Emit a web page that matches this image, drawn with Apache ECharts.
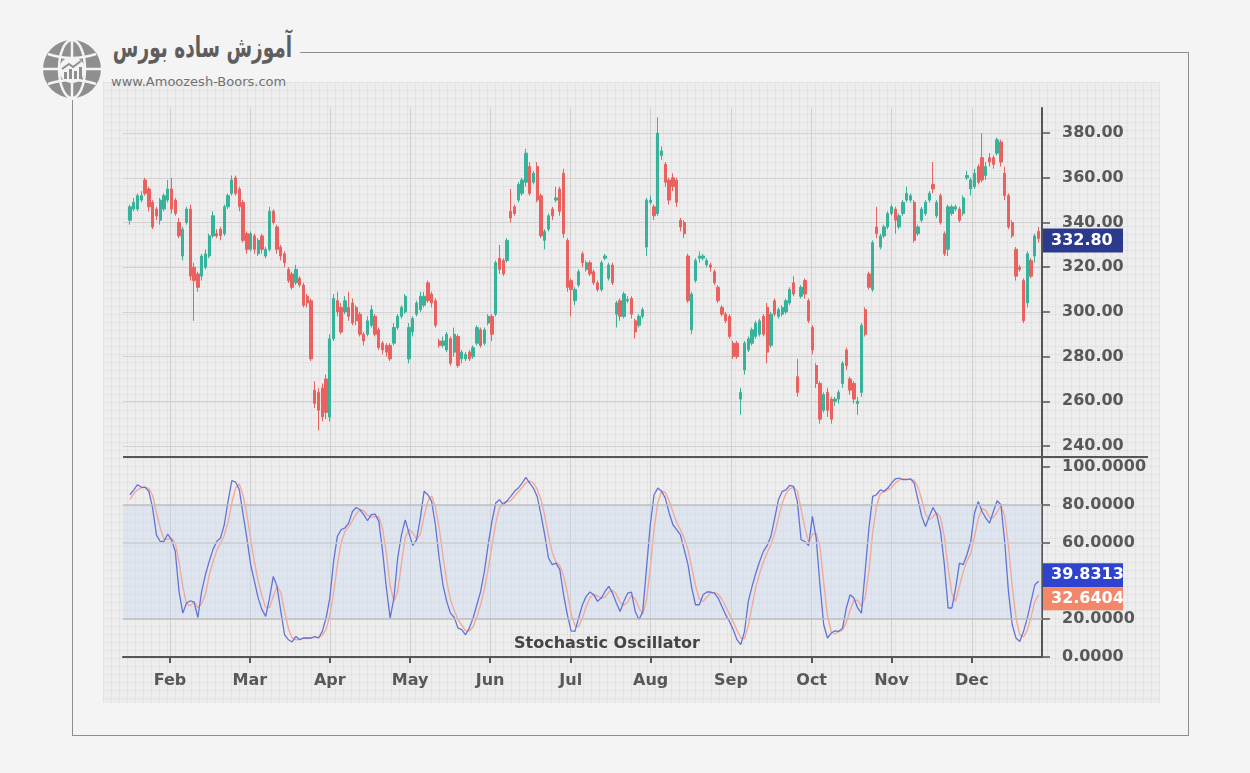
<!DOCTYPE html>
<html>
<head>
<meta charset="utf-8">
<script src="https://cdn.jsdelivr.net/npm/echarts@6/dist/echarts.min.js"></script>
<style>
html,body{margin:0;padding:0;width:1250px;height:773px;overflow:hidden;background:#f4f4f4;}
.panel{position:absolute;left:103px;top:82px;width:1057px;height:621px;background-color:#ededed;
 background-image:linear-gradient(to right, rgba(0,0,0,0.04) 1px, transparent 1px),linear-gradient(to bottom, rgba(0,0,0,0.04) 1px, transparent 1px);
 background-size:8px 8px;}
.fl{position:absolute;background:#8e8e8e;}
#logoText{position:absolute;right:958px;top:30px;direction:rtl;font-family:"DejaVu Sans";font-weight:bold;font-size:29px;color:#5e5e5e;white-space:nowrap;transform:scaleX(0.64);transform-origin:right center;}
#site{position:absolute;left:111px;top:74px;font-family:"DejaVu Sans";font-size:13px;color:#727272;white-space:nowrap;}
#globe{position:absolute;left:42px;top:39px;}
#chart{position:absolute;left:0;top:0;width:1250px;height:773px;}
</style>
</head>
<body>
<div class="panel"></div>
<div class="fl" style="left:300px;top:52px;width:889px;height:1px"></div>
<div class="fl" style="left:1188px;top:52px;width:1px;height:684px"></div>
<div class="fl" style="left:72px;top:735px;width:1117px;height:1px"></div>
<div class="fl" style="left:72px;top:100px;width:1px;height:636px"></div>
<svg id="globe" width="60" height="60" viewBox="0 0 60 60">
 <circle cx="30" cy="30" r="29" fill="#8f8f8f"/>
 <ellipse cx="30" cy="30" rx="13" ry="29" fill="none" stroke="#f4f4f4" stroke-width="2.5"/>
 <line x1="30" y1="1" x2="30" y2="59" stroke="#f4f4f4" stroke-width="2.5"/>
 <line x1="1" y1="30" x2="59" y2="30" stroke="#f4f4f4" stroke-width="2.5"/>
 <path d="M6 15 Q30 23 54 15" fill="none" stroke="#f4f4f4" stroke-width="2.5"/>
 <path d="M6 45 Q30 37 54 45" fill="none" stroke="#f4f4f4" stroke-width="2.5"/>
 <circle cx="30" cy="31" r="13" fill="#f4f4f4"/>
 <rect x="22" y="33" width="3" height="7" fill="#8f8f8f"/>
 <rect x="27" y="30" width="3" height="10" fill="#8f8f8f"/>
 <rect x="32" y="32" width="3" height="8" fill="#8f8f8f"/>
 <rect x="37" y="28" width="3" height="12" fill="#8f8f8f"/>
 <path d="M20 30 L27 25 L31 28 L39 22" fill="none" stroke="#8f8f8f" stroke-width="2"/>
</svg>
<div id="logoText">آموزش ساده بورس</div>
<div id="site">www.Amoozesh-Boors.com</div>
<div id="chart"></div>
<script>
// ---- data ----
const opens = [
341,346,346,350,359,355,349,346,341,346,
350,355,350,340,325,340,346,320,317,316,
320,325,334,335,337,335,347,353,360,355,
349,335,328,334,326,334,325,328,345,338,
329,326,319,317,313,315,312,307,305,265,
264,266,270,253,288,305,302,300,302,304,
302,299,290,290,294,298,292,286,285,285,
286,293,298,300,279,291,299,301,303,313,
308,305,287,285,283,288,282,289,279,279,
282,280,286,292,286,295,298,299,324,323,
323,345,347,350,353,358,365,358,365,352,
332,337,346,350,355,362,332,314,305,312,
326,319,322,318,313,310,324,315,321,299,
305,298,305,306,296,294,298,329,349,347,
344,370,366,359,360,359,341,340,325,292,
314,324,324,321,321,318,311,302,299,298,
286,286,261,274,283,286,289,290,298,302,
285,305,298,299,300,304,313,271,307,314,
305,293,276,268,256,264,261,260,261,268,
283,270,268,259,264,301,317,310,338,329,
334,338,344,346,338,344,350,350,349,335,
341,344,350,357,343,352,335,328,344,346,
346,344,360,355,356,365,369,361,369,369,
371,376,362,352,340,328,320,314,304,323,
325,336];
const closes = [
347,349,352,352,353,347,338,343,350,352,
355,346,344,334,337,346,316,314,311,325,
326,334,343,334,334,347,352,359,353,347,
332,328,335,328,332,328,328,345,340,328,
325,322,314,311,319,312,303,304,279,259,
256,253,255,288,306,300,291,305,298,295,
296,290,287,296,301,290,284,283,282,279,
293,298,302,307,293,297,304,307,307,305,
304,294,285,287,290,277,290,276,282,281,
279,284,293,285,292,298,290,322,319,317,
332,342,344,357,359,371,353,362,350,334,
336,343,343,351,345,335,311,310,310,318,
322,322,317,313,310,322,325,321,313,304,
298,308,305.5,299,291,298,301,350,350,343,
380,372,358,350,356,349,338,335,305,308,
323,325,325,323,320,313,305,299,296,289,
280,280,264,286,288,292,295,296,290,282,
299,299,301,302,305,310,308,264,311,308,
296,283,268,252,263,256,252,261,264,277,
276,265,261,260,294,290,311,331,335,334,
338,344,347,341,343,349,353,352,332,338,
346,349,353,355,349,340,326,347,347,347,
341,351,361,359,362,358,359,365,367,366,
377,367,352,338,334,316,319,296,326,316,
334,332.8];
const lows = [
339,345,345,349,352,345,337,341,339,345,
349,344,343,333,323,339,314,296,309,314,
319,324,333,333,332,334,346,352,352,345,
331,326,327,326,325,326,324,327,339,326,
323,320,313,310,312,311,302,302,278,257,
247,251,252,251,287,298,290,299,296,294,
294,289,285,289,293,289,283,281,280,278,
285,292,297,299,277,289,298,300,302,304,
302,293,284,284,282,276,280,275,277,278,
278,279,285,284,285,294,287,298,317,316,
322,340,343,349,352,356,352,357,349,333,
328,336,341,349,343,333,309,298,303,311,
320,318,316,312,309,309,323,314,312,293,
296,297,304,297,288,293,297,325,348,341,
343,368,356,348,354,347,336,333,304,290,
313,322,323,320,318,312,304,298,295,288,
279,279,254,272,282,285,288,289,289,277,
284,298,297,298,299,303,307,262,306,306,
295,281,266,250,255,253,250,258,259,266,
274,263,259,254,262,289,310,309,333,328,
333,337,343,335,337,343,349,349,331,334,
340,343,349,353,342,339,325,325,343,345,
340,343,359,352,355,357,358,359,365,364,
370,365,350,337,333,314,318,295,302,315,
322,331];
const highs = [
348,351,353,354,360,356,350,347,351,353,
359,360,351,342,338,347,348,322,318,326,
328,335,345,337,338,348,353,361,361,356,
350,336,336,335,333,335,329,347,346,339,
330,327,320,318,321,316,313,308,306,269,
266,268,272,290,308,309,304,307,309,306,
303,300,291,298,303,299,293,287,286,286,
295,299,303,308,295,298,305,309,309,314,
309,306,288,289,291,289,293,290,283,282,
283,285,294,293,293,299,299,323,330,324,
333,355,348,358,360,373,367,363,367,353,
337,344,347,356,356,364,333,315,311,319,
327,323,323,319,314,323,326,322,322,305,
306,309,307,307,297,299,302,351,352,348,
387,374,367,360,362,360,342,341,326,309,
324,327,326,324,322,319,312,303,300,299,
287,287,266,287,289,293,296,297,299,304,
300,306,302,303,306,311,316,279,312,315,
306,294,277,269,264,266,262,262,265,278,
284,271,269,262,295,302,318,332,347,335,
339,345,348,347,344,350,356,353,350,339,
347,350,354,367,350,353,336,348,348,348,
347,352,363,360,364,366,380,367,371,370,
378,377,365,353,341,329,321,315,327,324,
335,338];
// Stochastic %K and %D
const stochK = [
85.4,88,90.7,89.3,89.3,87.2,78.4,64.3,60.8,60.8,
64.7,61.7,55.6,34.5,23.1,28.4,29.6,28.9,20.8,34.5,
43.3,50.3,56.5,60.8,62.6,69.6,81.9,92.8,92.1,88,
74.9,62.6,48.6,39.8,31,24.9,21.4,31,42.4,37.2,
24,11.7,9.1,7.9,10.8,9.1,10,10,10,10.8,
10,13.5,20.5,31,50.3,63.5,67,67.9,70.5,76.6,
78.7,77.5,74.9,71.7,74.9,75.2,71.4,55.6,36.3,20.5,
31,52.1,64.3,72.2,65.2,58.7,61.7,73.1,87.2,85.4,
81.9,69.6,52.1,38,29.3,23.1,20.8,15.2,14.4,11.7,
15.2,20.5,27.5,34.5,45.1,59.1,71.4,81,82.8,80.1,
82.2,84.5,87.2,88.9,91.5,94.5,91.5,88.9,84.5,74.9,
64.3,52.1,48.6,49.4,46,32.8,22.2,13.8,13.5,20.5,
27.5,31.9,34.2,32.8,29.3,31,34.5,37.2,33.6,28.4,
24,29.3,33.6,34.2,24,19.6,24,46.8,69.6,85.4,
88.9,87.2,83.6,75.8,69.6,67,64.3,56.5,48.6,36.3,
27.5,27.5,32.8,34.2,34.2,33.6,31,26.6,22.2,18.7,
14.4,9.1,6.5,13.5,29.3,37.2,44.2,50.3,55.6,58.7,
63.5,73.1,82.8,87.2,88,90.3,89.8,81.9,61.7,60.8,
58.7,74,62.6,38,17,10,12.6,13.8,13.5,15.2,
25.8,32.8,31,25.8,23.1,45.1,67.9,84.5,85.4,88,
87.2,88.9,91.5,93.8,94.2,93.3,93.3,93.8,91.5,82.8,
74,68.7,74,78.7,74.9,66.1,48.6,25.8,25.8,36.3,
49.4,48.6,53.8,60.8,75.8,81.9,76.6,73.1,70.5,76.6,
82.2,80.1,60.8,34.5,17,10,8.2,13.5,20.5,29.3,
38,39.8313];
const stochD = [
83,86,88,89,89.5,88.5,85,76,68,62,
62,62.5,60,50,37,28,27,29,26,28,
33,43,50,56,60,64,71,81,89,91,
85,75,62,50,40,32,26,26,32,37,
34,24,15,10,9,9.3,10,9.7,10,10.3,
10.3,11.4,14.7,21.7,33.9,48.3,60.3,66.1,68.5,71.7,
75.3,77.6,77,74.7,73.8,73.9,73.8,67.4,54.4,37.5,
29.3,34.5,49.1,62.9,67.2,65.4,61.9,64.5,74,81.9,
84.8,79,67.9,53.2,39.8,30.1,24.4,19.7,16.8,13.8,
13.8,15.8,21.1,27.5,35.7,46.2,58.5,70.5,78.4,81.3,
81.7,82.3,84.6,86.9,89.2,91.6,92.5,91.6,88.3,82.8,
74.6,63.8,55,50,48,42.7,33.7,22.9,16.5,15.9,
20.5,26.6,31.2,33,32.1,31,31.6,34.2,35.1,33.1,
28.7,27.2,29,32.4,30.6,25.9,22.5,30.1,46.8,67.3,
81.3,87.2,86.6,82.2,76.3,70.8,67,62.6,56.5,47.1,
37.5,30.4,29.3,31.5,33.7,34,33,30.4,26.6,22.5,
18.4,14.1,10,9.7,16.4,26.7,36.9,43.9,50,54.9,
59.3,65.1,73.1,81,86,88.5,89.4,87.3,77.8,68.1,
60.4,64.5,65.1,58.2,39.2,21.7,13.2,12.1,13.3,14.2,
18.2,24.6,29.9,29.9,26.6,31.3,45.4,65.8,79.3,86,
86.9,88,89.2,91.4,93.2,93.8,93.6,93.5,92.9,89.4,
82.8,75.2,72.2,73.8,75.9,73.2,63.2,46.8,33.4,29.3,
37.2,44.8,50.6,54.4,63.5,72.8,78.1,77.2,73.4,73.4,
76.4,79.6,74.4,58.5,37.4,20.5,11.7,10.6,14.1,21.1,
29.3,32.6404];
// axis ticks / labels
const monthNames = ['Feb','Mar','Apr','May','Jun','Jul','Aug','Sep','Oct','Nov','Dec'];
const monthTicks = [10.6,31.8,53.0,74.3,95.5,116.9,138.1,159.4,180.8,202.0,223.3];
const priceTicks = [240,260,280,300,320,340,360,380];
const stochTicks = [0,20,40,60,80,100];
const stochLevels = [20,60,80];
const indicatorName = 'Stochastic Oscillator';

// ---- chart ----
const FONT = 'DejaVu Sans';
const UP = '#38b39b', DOWN = '#e9625f';
const AXIS = '#555555';
const candleData = opens.map((o, i) => [i, o, closes[i], lows[i], highs[i]]);
const kData = stochK.map((v, i) => [i, v]);
const dData = stochD.map((v, i) => [i, v]);
const labelStyle = {color: '#585858', fontSize: 16, fontWeight: 'bold', fontFamily: FONT};
const last = closes.length - 1;

const chart = echarts.init(document.getElementById('chart'));
chart.setOption({
  animation: false,
  backgroundColor: 'transparent',
  grid: [
    {left: 123, top: 108, width: 919, height: 349},
    {left: 123, top: 457, width: 919, height: 200}
  ],
  xAxis: [
    {type: 'value', gridIndex: 0, min: -1.86, max: 241.9,
     axisLine: {show: false, onZero: false}, axisTick: {show: false, customValues: monthTicks},
     axisLabel: {show: false, customValues: monthTicks},
     splitLine: {show: true, lineStyle: {color: '#cfcfcf', width: 1}}},
    {type: 'value', gridIndex: 1, min: -1.86, max: 241.9,
     axisLine: {show: true, onZero: false, lineStyle: {color: AXIS, width: 2}},
     axisTick: {show: true, customValues: monthTicks, length: 6, lineStyle: {color: AXIS, width: 2}},
     axisLabel: Object.assign({customValues: monthTicks, margin: 16,
       formatter: v => monthNames[monthTicks.findIndex(t => Math.abs(t - v) < 0.01)] || ''}, labelStyle),
     splitLine: {show: true, lineStyle: {color: '#cfcfcf', width: 1}}}
  ],
  yAxis: [
    {type: 'value', gridIndex: 0, position: 'right', min: 235.1, max: 391.2, scale: true,
     axisLine: {show: true, onZero: false, lineStyle: {color: AXIS, width: 2}},
     axisTick: {show: true, customValues: priceTicks, length: 8, lineStyle: {color: AXIS, width: 1.5}},
     axisLabel: Object.assign({customValues: priceTicks, margin: 20, formatter: v => v.toFixed(2)}, labelStyle),
     splitLine: {show: true, lineStyle: {color: '#d2d2d2', width: 1}}},
    {type: 'value', gridIndex: 1, position: 'right', min: 0, max: 105.26,
     axisLine: {show: true, onZero: false, lineStyle: {color: AXIS, width: 2}},
     axisTick: {show: true, customValues: stochTicks, length: 8, lineStyle: {color: AXIS, width: 1.5}},
     // the label hidden behind the current-value boxes is left out
     axisLabel: Object.assign({margin: 20,
       customValues: stochTicks.filter(v => Math.abs(v - stochK[last]) > 12),
       formatter: v => v.toFixed(4)}, labelStyle),
     splitLine: {show: false}}
  ],
  series: [
    {type: 'candlestick', xAxisIndex: 0, yAxisIndex: 0, data: candleData,
     encode: {x: 0, y: [1, 2, 3, 4]}, barWidth: 2.8,
     itemStyle: {color: UP, color0: DOWN, borderColor: UP, borderColor0: DOWN, borderWidth: 1}},
    {type: 'line', xAxisIndex: 1, yAxisIndex: 1, data: dData, showSymbol: false, z: 3,
     lineStyle: {color: '#f1a99b', width: 1.4}},
    {type: 'line', xAxisIndex: 1, yAxisIndex: 1, data: kData, showSymbol: false, z: 4,
     lineStyle: {color: '#6473d4', width: 1.3},
     markArea: {silent: true, itemStyle: {color: 'rgba(200,217,243,0.36)'},
       data: [[{yAxis: stochLevels[0]}, {yAxis: stochLevels[2]}]]},
     markLine: {silent: true, symbol: 'none', label: {show: false},
       data: stochLevels.map(v => ({yAxis: v, lineStyle: {color: v === 60 ? '#cdcdcd' : '#bcbcbc', width: 1.5, type: 'solid'}}))}}
  ]
});

const yP = chart.convertToPixel({yAxisIndex: 0}, closes[last]);
const yK = chart.convertToPixel({yAxisIndex: 1}, stochK[last]);
const boxText = {fill: '#ffffff', fontSize: 16, fontWeight: 'bold', fontFamily: FONT, verticalAlign: 'middle'};
const kTop = yK - 18;
chart.setOption({
  graphic: [
    {type: 'line', shape: {x1: 123, y1: 457, x2: 1148, y2: 457}, style: {stroke: AXIS, lineWidth: 2}, z: 10},
    {type: 'text', x: 607, y: 644, style: {text: indicatorName, fill: '#454545', fontSize: 16, fontWeight: 'bold', fontFamily: FONT, align: 'center', verticalAlign: 'middle'}, z: 10},
    {type: 'rect', shape: {x: 1043, y: yP - 10, width: 80, height: 24}, style: {fill: '#2c3a8e'}, z: 20},
    {type: 'text', x: 1051, y: yP + 2, style: Object.assign({text: closes[last].toFixed(2)}, boxText), z: 21},
    {type: 'rect', shape: {x: 1043, y: kTop, width: 80, height: 24}, style: {fill: '#2e44cf'}, z: 20},
    {type: 'text', x: 1051, y: kTop + 12, style: Object.assign({text: stochK[last].toFixed(4)}, boxText), z: 21},
    {type: 'rect', shape: {x: 1043, y: kTop + 24, width: 80, height: 23}, style: {fill: '#f2876a'}, z: 20},
    {type: 'text', x: 1051, y: kTop + 35.5, style: Object.assign({text: stochD[last].toFixed(4)}, boxText), z: 21}
  ]
});
</script>
</body>
</html>
